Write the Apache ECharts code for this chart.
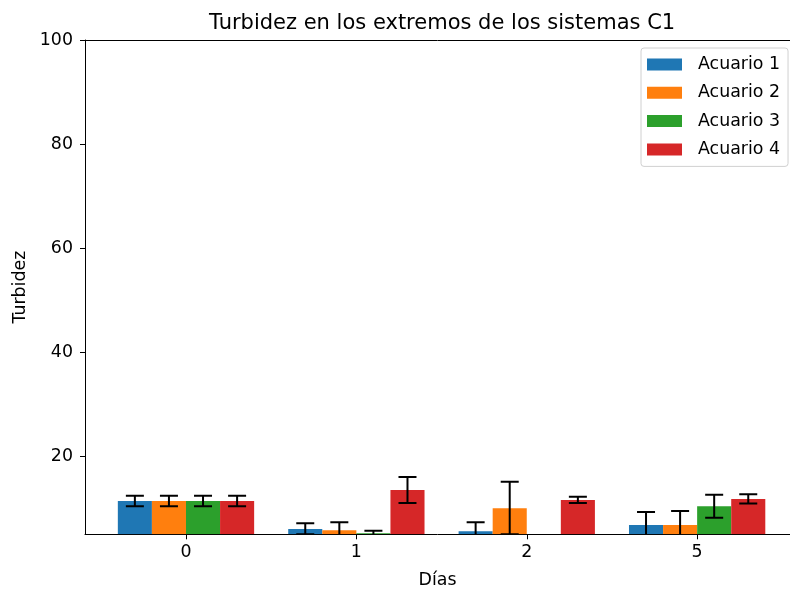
<!DOCTYPE html>
<html>
<head>
<meta charset="utf-8">
<script src="https://cdn.jsdelivr.net/npm/echarts@6/dist/echarts.min.js"></script>
<style>html,body{margin:0;padding:0;background:#fff}#c{width:790px;height:592px}</style>
</head>
<body>
<div id="c"></div>
<script>
const days = ['0', '1', '2', '5'];
const seriesNames = ['Acuario 1', 'Acuario 2', 'Acuario 3', 'Acuario 4'];
const acuario1 = [11.4, 6.0, 5.6, 6.8];
const acuario1Err = [1.0, 1.1, 1.7, 2.5];
const acuario2 = [11.4, 5.8, 10.0, 6.8];
const acuario2Err = [1.0, 1.5, 5.1, 2.7];
const acuario3 = [11.4, 5.2, null, 10.4];
const acuario3Err = [1.0, 0.5, null, 2.2];
const acuario4 = [11.4, 13.5, 11.6, 11.8];
const acuario4Err = [1.0, 2.5, 0.6, 0.9];
const yTicks = [20, 40, 60, 80, 100];

const colors = ['#1f77b4', '#ff7f0e', '#2ca02c', '#d62728'];
const values = [acuario1, acuario2, acuario3, acuario4];
const errs = [acuario1Err, acuario2Err, acuario3Err, acuario4Err];
const YMIN = 5, YMAX = 100;
const XMIN = -0.5927, XMAX = 3.545;
const BW = 0.2;
const FONT = 'DejaVu Sans';
const FS = 17.4;

function makeSeries(j) {
  const offset = (j - 1.5) * BW;
  const data = days.map((d, i) => [i, values[j][i] == null ? NaN : values[j][i], errs[j][i] == null ? 0 : errs[j][i]]);
  return {
    type: 'custom',
    name: seriesNames[j],
    clip: true,
    itemStyle: { color: colors[j] },
    encode: { x: 0, y: 1 },
    data: data,
    renderItem: function (params, api) {
      const x = api.value(0), v = api.value(1), e = api.value(2);
      if (isNaN(v) || v <= YMIN) {
        return { type: 'group', children: [] };
      }
      const cx = x + offset;
      const pBL = api.coord([cx - BW / 2, YMIN]);
      const pTR = api.coord([cx + BW / 2, v]);
      const children = [{
        type: 'rect',
        shape: { x: pBL[0], y: pTR[1], width: pTR[0] - pBL[0], height: pBL[1] - pTR[1] },
        style: { fill: colors[j] }
      }];
      if (e > 0) {
        const top = api.coord([cx, v + e]);
        const lowVal = v - e;
        const bot = api.coord([cx, Math.max(lowVal, YMIN)]);
        const cap = 9;
        const ls = { stroke: '#000', lineWidth: 2 };
        children.push({ type: 'line', shape: { x1: top[0], y1: top[1], x2: bot[0], y2: bot[1] }, style: ls });
        children.push({ type: 'line', shape: { x1: top[0] - cap, y1: top[1], x2: top[0] + cap, y2: top[1] }, style: ls });
        if (lowVal >= YMIN - 0.15) {
          children.push({ type: 'line', shape: { x1: bot[0] - cap, y1: bot[1], x2: bot[0] + cap, y2: bot[1] }, style: ls });
        }
      }
      return { type: 'group', children: children };
    }
  };
}

const chart = echarts.init(document.getElementById('c'), null, { renderer: 'canvas' });
chart.setOption({
  animation: false,
  backgroundColor: '#fff',
  textStyle: { fontFamily: FONT },
  title: {
    text: 'Turbidez en los extremos de los sistemas C1',
    left: 204, top: 8,
    textStyle: { fontFamily: FONT, fontSize: 21, fontWeight: 'normal', color: '#000' }
  },
  legend: {
    orient: 'vertical',
    left: 641, top: 48,
    padding: [6.5, 8, 7, 6],
    itemWidth: 35, itemHeight: 12, itemGap: 8.3,
    backgroundColor: '#fff',
    borderColor: '#d0d0d0', borderWidth: 1, borderRadius: 3,
    icon: 'rect',
    data: seriesNames.map((n, j) => ({ name: n, itemStyle: { color: colors[j] } })),
    textStyle: { fontFamily: FONT, fontSize: FS, lineHeight: 20, color: '#000', padding: [0, 0, 0, 11] }
  },
  grid: { left: 85, top: 40, right: 0, bottom: 57.7, containLabel: false, outerBoundsMode: 'none' },
  xAxis: [{
    type: 'value',
    min: XMIN, max: XMAX,
    name: 'Días', nameLocation: 'middle', nameGap: 38,
    nameTextStyle: { fontFamily: FONT, fontSize: FS, color: '#000' },
    axisLine: { show: true, lineStyle: { color: '#000', width: 1 } },
    axisTick: { show: true, customValues: [0, 1, 2, 3], length: 5, lineStyle: { color: '#000' } },
    axisLabel: { customValues: [0, 1, 2, 3], margin: 10, fontFamily: FONT, fontSize: FS, color: '#000',
      formatter: v => days[Math.round(v)] },
    splitLine: { show: false }
  }, {
    type: 'value', position: 'top',
    min: XMIN, max: XMAX,
    axisLine: { show: true, onZero: false, lineStyle: { color: '#000', width: 1 } },
    axisTick: { show: false }, axisLabel: { show: false }, splitLine: { show: false }
  }],
  yAxis: {
    type: 'value',
    min: YMIN, max: YMAX,
    name: 'Turbidez', nameLocation: 'middle', nameGap: 56,
    nameTextStyle: { fontFamily: FONT, fontSize: FS, color: '#000' },
    axisLine: { show: true, onZero: false, lineStyle: { color: '#000', width: 1 } },
    axisTick: { show: true, customValues: yTicks, length: 5, lineStyle: { color: '#000' } },
    axisLabel: { customValues: yTicks, margin: 12, fontFamily: FONT, fontSize: FS, color: '#000' },
    splitLine: { show: false }
  },
  series: [0, 1, 2, 3].map(makeSeries)
});
</script>
</body>
</html>
